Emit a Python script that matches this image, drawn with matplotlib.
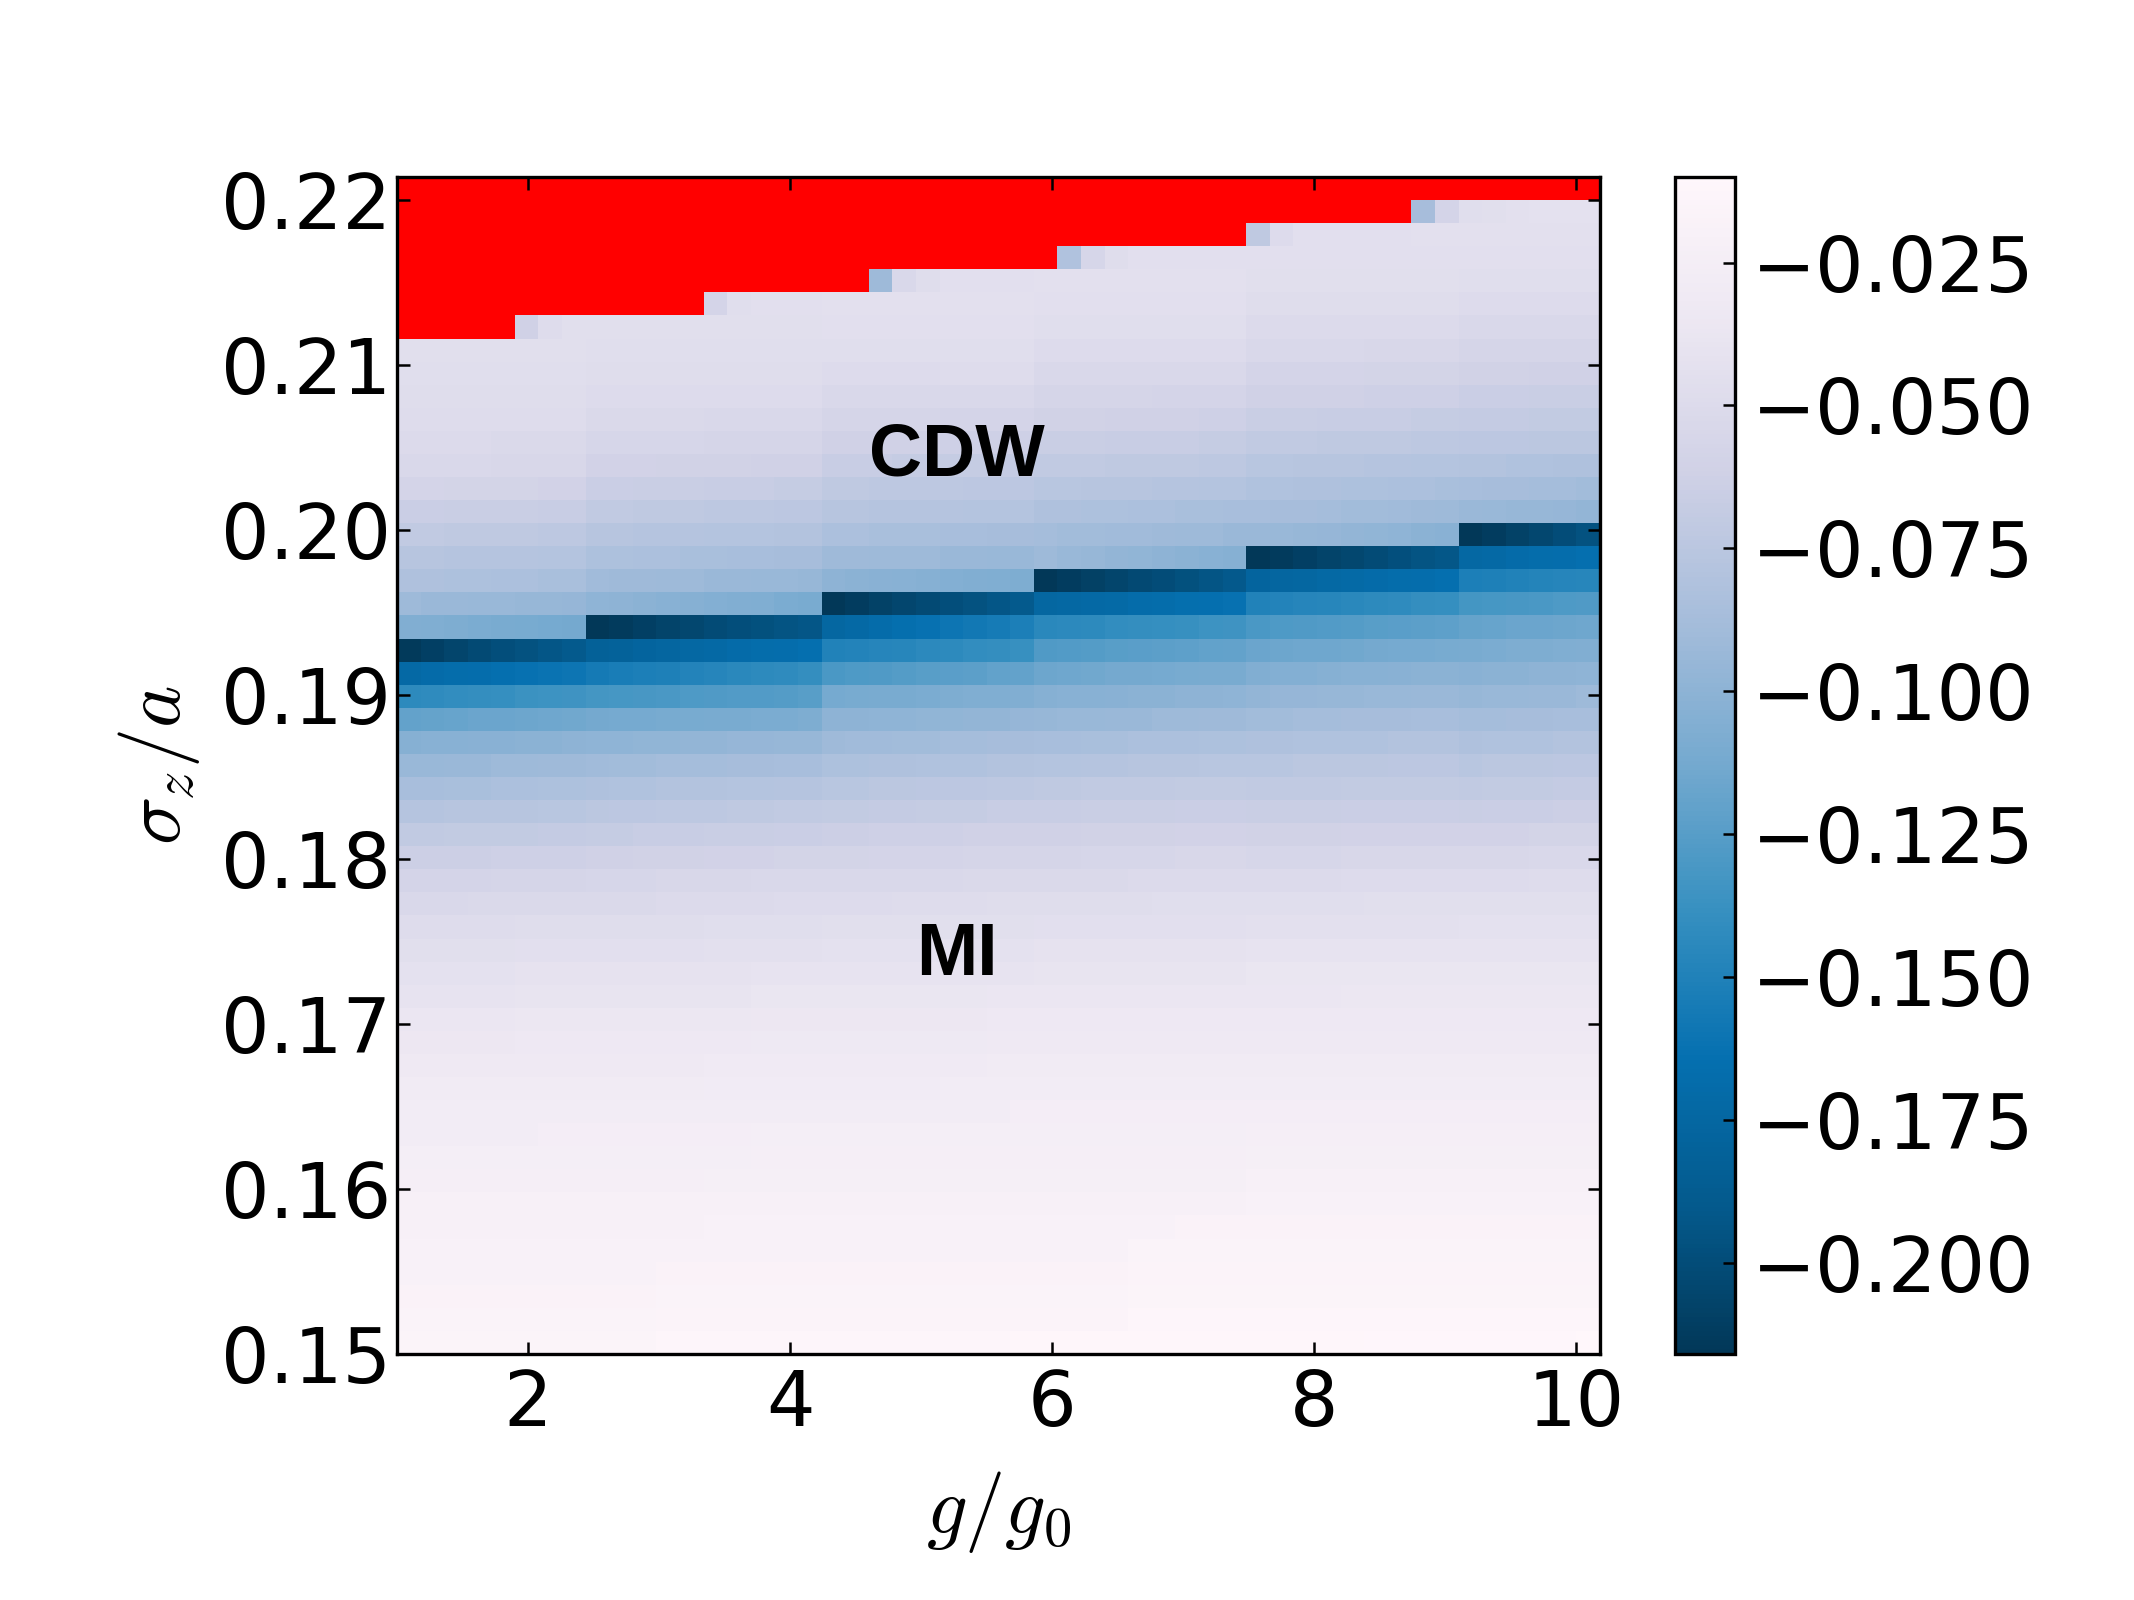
import numpy as np
import matplotlib
matplotlib.use("Agg")
import matplotlib.pyplot as plt

nan = float("nan")

# x categories: g/g0 (lower cell edges)
g_over_g0 = [1.00, 1.18, 1.36, 1.54, 1.72, 1.90, 2.08, 2.26, 2.44, 2.62, 2.80, 2.98, 3.16, 3.34, 3.52,
             3.70, 3.88, 4.06, 4.24, 4.42, 4.60, 4.78, 4.96, 5.14, 5.32, 5.50, 5.68, 5.86, 6.04, 6.22,
             6.40, 6.58, 6.76, 6.94, 7.12, 7.30, 7.48, 7.66, 7.84, 8.02, 8.20, 8.38, 8.56, 8.74, 8.92,
             9.10, 9.28, 9.46, 9.64, 9.82, 10.00]
# y categories: sigma_z/a (lower cell edges)
sigma_z_over_a = [0.1500, 0.1514, 0.1528, 0.1542, 0.1556, 0.1570, 0.1584, 0.1598, 0.1612, 0.1626,
                  0.1640, 0.1654, 0.1668, 0.1682, 0.1696, 0.1710, 0.1724, 0.1738, 0.1752, 0.1766,
                  0.1780, 0.1794, 0.1808, 0.1822, 0.1836, 0.1850, 0.1864, 0.1878, 0.1892, 0.1906,
                  0.1920, 0.1934, 0.1948, 0.1962, 0.1976, 0.1990, 0.2004, 0.2018, 0.2032, 0.2046,
                  0.2060, 0.2074, 0.2088, 0.2102, 0.2116, 0.2130, 0.2144, 0.2158, 0.2172, 0.2186,
                  0.2200]

# colour values, in units of -0.001, one row per sigma_z/a value (nan = unstable, drawn red)
row00 = [15,15,15,15,15,15,15,15,15,15, 15,14,14,14,14,14,14,14,14,14, 14,14,14,14,14,14,12,12,12,12, 12,12,12,12,12,12,12,12,12,12, 12,11,11,11,11,11,11,11,11,11, 10]
row01 = [17,17,17,17,17,17,17,17,17,17, 17,16,16,16,16,16,16,16,16,16, 16,16,16,16,16,16,16,16,16,16, 16,14,14,14,14,14,14,14,14,14, 14,14,14,14,14,14,14,14,14,14, 14]
row02 = [18,18,18,18,18,18,18,18,18,18, 18,17,17,17,17,17,17,17,17,17, 17,17,17,17,17,17,17,17,17,17, 17,15,15,15,15,15,15,15,15,15, 15,15,15,15,15,15,15,15,15,15, 15]
row03 = [19,19,19,19,19,19,19,19,19,19, 19,18,18,18,18,18,18,18,18,18, 18,18,18,18,18,18,18,18,18,18, 18,16,16,16,16,16,16,16,16,16, 16,16,16,16,16,16,16,16,16,16, 16]
row04 = [20,20,20,20,20,20,20,20,20,20, 20,19,19,19,19,19,19,19,19,19, 19,19,19,19,19,19,19,19,19,19, 19,17,17,17,17,17,17,17,17,17, 17,17,17,17,17,17,17,17,17,17, 17]
row05 = [21,21,21,21,21,21,21,21,21,21, 21,21,21,20,20,20,20,20,20,20, 20,20,20,20,20,20,20,20,20,20, 20,20,20,18,18,18,18,18,18,18, 18,18,18,18,18,18,18,18,18,18, 18]
row06 = [22,22,22,22,22,22,22,22,22,22, 22,22,22,21,21,21,21,21,21,21, 21,21,21,21,21,21,21,21,21,21, 21,21,21,21,21,21,20,20,20,20, 20,20,20,20,20,20,20,20,20,20, 20]
row07 = [24,24,24,24,24,24,24,24,24,24, 24,24,24,23,23,23,23,23,23,23, 23,23,23,23,23,23,23,23,23,23, 23,23,23,23,23,23,21,21,21,21, 21,21,21,21,21,21,21,21,21,21, 21]
row08 = [25,25,25,25,25,25,25,25,25,25, 25,25,25,25,25,24,24,24,24,24, 24,24,24,24,24,24,24,24,24,24, 24,24,24,24,24,24,23,23,23,23, 23,23,23,23,23,23,23,23,23,23, 23]
row09 = [27,27,27,27,27,27,26,26,26,26, 26,26,26,26,26,25,25,25,25,25, 25,25,25,25,25,25,25,25,25,25, 25,25,25,25,25,25,24,24,24,24, 24,24,24,24,24,24,24,24,24,24, 24]
row10 = [28,28,28,28,28,28,28,28,28,28, 28,28,28,28,28,28,27,27,27,27, 27,27,27,27,27,27,26,26,26,26, 26,26,26,26,26,26,26,26,26,26, 26,26,26,26,26,26,26,26,26,26, 26]
row11 = [30,30,30,30,30,30,30,30,30,30, 30,30,30,29,29,29,29,29,29,29, 29,29,29,28,28,28,28,28,28,28, 28,28,28,28,28,28,28,28,28,28, 28,28,28,28,28,28,28,28,28,28, 28]
row12 = [32,32,32,32,32,32,32,32,32,32, 32,32,32,31,31,31,31,31,31,31, 31,31,31,31,31,30,30,30,30,30, 30,30,30,30,30,30,30,30,30,30, 30,30,30,30,30,30,30,30,30,30, 30]
row13 = [35,35,35,35,35,34,34,34,34,34, 34,34,34,34,34,33,33,33,33,33, 33,33,33,33,33,32,32,32,32,32, 32,32,32,32,32,32,32,32,32,32, 32,32,32,32,32,32,32,32,32,32, 32]
row14 = [37,37,37,37,37,36,36,36,36,36, 36,36,36,36,36,35,35,35,35,35, 35,35,35,35,35,34,34,34,34,34, 34,34,34,34,34,34,34,34,34,34, 34,34,34,34,34,34,34,34,34,34, 34]
row15 = [40,40,40,40,40,39,39,39,39,39, 39,39,39,39,39,38,38,38,38,38, 38,38,38,38,38,37,37,37,37,37, 37,37,37,37,37,37,37,37,37,37, 36,36,36,36,36,36,36,36,36,36, 36]
row16 = [43,43,43,43,43,42,42,42,42,42, 42,42,42,42,42,41,41,41,41,41, 40,40,40,40,40,40,40,39,39,39, 39,39,39,39,39,39,38,38,38,38, 38,38,38,38,38,38,38,38,38,38, 38]
row17 = [46,46,46,46,46,45,45,45,45,45, 45,45,45,44,44,44,44,44,43,43, 43,43,43,43,43,43,43,42,42,42, 42,42,42,42,42,42,41,41,41,41, 41,41,41,41,41,40,40,40,40,40, 40]
row18 = [49,49,49,49,49,48,48,48,48,48, 48,48,48,47,47,47,47,47,46,46, 46,46,46,46,46,46,46,45,45,45, 45,45,45,45,45,45,44,44,44,44, 44,44,44,44,44,43,43,43,43,43, 43]
row19 = [53,53,53,52,52,52,52,52,52,52, 52,51,51,51,51,51,50,50,50,50, 50,49,49,49,49,48,48,48,48,48, 48,48,47,47,47,47,47,47,47,47, 47,46,46,46,46,46,46,46,46,46, 46]
row20 = [58,58,58,58,57,57,57,57, 56,56,56,55,55,55,55,54,54,54, 54,54,53,53,53,53,52,52,52, 52,52,52,52,51,51,51,51,51, 51,51,51,51,50,50,50,50,50, 50,50,50,49,49,49]
row21 = [64,64,64,64,63,63,63,63, 62,62,61,61,61,60,60,60,59,59, 59,59,58,58,58,58,57,57,57, 57,57,56,56,56,56,55,55,55, 56,56,56,56,55,55,55,55,55, 55,55,55,54,54,54]
row22 = [71,71,70,70,70,70,69,69, 68,68,67,67,67,66,66,66,65,65, 64,64,63,63,63,63,62,62,62, 62,62,61,61,61,61,60,60,60, 61,61,61,61,60,60,60,60,60, 60,60,60,59,59,59]
row23 = [78,78,77,77,77,77,76,76, 75,74,74,73,73,73,72,72,71,71, 70,70,69,69,68,68,68,67,67, 67,67,66,66,66,66,65,65,65, 66,66,66,66,65,65,65,65,65, 66,65,65,65,64,64]
row24 = [86,86,85,85,84,84,83,83, 82,81,81,80,80,80,79,79,78,78, 76,76,75,75,74,74,74,73,73, 72,72,71,71,71,71,70,70,70, 71,71,71,71,70,70,70,70,70, 71,70,70,70,69,69]
row25 = [94,94,93,93,92,92,91,91, 90,89,89,88,88,88,87,87,86,86, 83,83,82,82,81,81,81,80,80, 79,79,78,78,77,77,77,76,76, 76,76,75,75,75,75,74,74,74, 76,75,75,75,74,74]
row26 = [104,103,103,102,102,101,101,100, 99,99,98,98,97,97,96,96,95,95, 91,90,90,89,89,88,88,87,87, 86,86,85,85,84,84,84,83,83, 82,82,81,81,81,81,80,80,80, 82,81,81,81,80,80]
row27 = [120,119,118,117,117,116,115,114, 113,112,112,111,111,110,110,109,109,108, 100,100,99,99,98,98,97,97,96, 95,94,94,93,93,92,92,91,91, 89,89,88,88,87,87,87,86,86, 88,88,87,87,86,86]
row28 = [143,142,141,140,139,137,136,135, 133,132,131,130,129,128,127,127,126,125, 112,111,110,110,109,108,107,107,106, 104,103,103,102,101,101,100,100,99, 97,96,96,95,95,94,94,93,93, 95,94,94,93,93,92]
row29 = [172,170,168,167,165,163,162,160, 156,154,152,151,149,147,145,143,142,140, 130,129,128,126,125,124,123,121,120, 116,115,114,113,113,112,111,110,110, 106,105,105,104,103,103,102,101,101, 102,101,101,100,100,99]
row30 = [214,210,206,202,199,196,193,190, 182,180,178,176,174,172,170,168,167,165, 150,149,147,146,144,143,141,140,138, 128,127,126,125,124,123,122,121,120, 117,116,115,115,114,113,112,112,111, 110,109,108,108,107,106]
row31 = [106,107,108,109,110,111,112,113, 216,213,210,207,204,201,199,197,195,193, 175,172,169,166,163,160,158,155,152, 145,144,143,141,140,139,138,136,135, 130,129,128,127,126,125,124,123,122, 119,118,117,117,116,115]
row32 = [92,93,93,94,94,95,95,96, 99,100,101,103,104,105,106,107,109,110, 216,212,208,205,202,199,196,193,190, 175,174,172,171,169,168,166,165,163, 150,149,147,146,145,143,142,140,139, 133,132,131,130,129,128]
row33 = [82,82,83,83,84,84,85,85, 90,91,91,92,92,93,93,94,94,95, 100,101,102,103,104,105,106,107,108, 216,212,209,206,203,200,197,194,191, 178,176,175,173,171,170,168,167,165, 152,151,150,148,147,146]
row34 = [77,77,78,78,78,78,79,79, 83,83,84,84,85,85,86,86,87,87, 91,91,92,92,92,93,93,94,94, 92,94,95,97,98,100,101,103,104, 216,213,210,207,204,201,198,195,192, 174,172,170,168,167,165]
row35 = [71,71,72,72,72,72,73,73, 77,77,78,78,78,79,79,79,80,80, 84,84,85,85,85,86,86,87,87, 88,89,89,90,90,91,92,92,93, 93,94,95,96,97,98,99,101,102, 216,212,208,204,200,196]
row36 = [65,65,66,66,66,66,67,67, 71,71,72,72,72,73,73,73,74,74, 77,77,78,78,78,78,79,79,79, 82,82,83,83,84,84,85,85,86, 86,87,87,88,89,89,90,91,92, 93,94,95,95,96,97]
row37 = [58,58,59,59,59,59,60,60, 65,65,66,66,66,67,67,67,68,68, 72,72,73,73,73,73,74,74,74, 76,76,77,77,77,78,78,79,79, 81,81,82,82,83,83,84,84,85, 86,87,87,88,88,89]
row38 = [54,54,54,54,55,55,55,55, 60,60,60,61,61,61,61,62,62,62, 67,67,67,68,68,68,68,69,69, 71,71,71,72,72,72,72,73,73, 76,76,77,77,77,78,78,79,79, 80,80,81,81,82,82]
row39 = [51,51,51,51,52,52,52,52, 56,56,56,56,56,57,57,57,57,57, 62,62,62,62,62,63,63,63,63, 66,66,66,67,67,67,67,68,68, 71,71,71,72,72,72,72,73,73, 74,74,74,75,75,75]
row40 = [49,49,49,49,49,49,49,49, 52,52,52,52,52,53,53,53,53,53, 57,57,57,57,57,58,58,58,58, 61,61,61,62,62,62,62,63,63, 66,66,66,67,67,67,67,68,68, 69,69,69,70,70,70]
row41 = [48,48,48,48,48,48,48,48, 50,50,50,50,50,50,50,50,50,50, 53,53,53,53,53,53,53,53,53, 57,57,57,57,57,58,58,58,58, 62,62,62,62,62,63,63,63,63, 65,65,65,66,66,66]
row42 = [47,47,47,47,47,47,47,47, 48,48,48,48,48,48,48,48,48,48, 50,50,50,50,50,49,49,49,49, 53,53,53,53,53,54,54,54,54, 58,58,58,58,58,59,59,59,59, 61,61,61,62,62,62]
row43 = [46,46,46,46,46,46,46,46, 47,47,47,47,47,47,47,47,47,47, 47,47,47,47,47,47,47,47,47, 50,50,50,50,50,50,50,50,50, 54,54,54,54,54,55,55,55,55, 57,57,57,57,57,57]
row44 = [nan,nan,nan,nan,nan,62,49,46, 46,46,46,46,46,46,46,46,46,46, 45,45,45,45,45,45,45,45,45, 47,47,47,47,47,47,47,47,47, 51,51,51,51,51,51,51,51,51, 53,53,53,53,53,53]
row45 = [nan,nan,nan,nan,nan,nan,nan,nan, nan,nan,nan,nan,nan,58,47,45,45,45, 44,44,44,44,44,44,44,44,44, 45,45,45,45,45,45,45,45,45, 48,48,48,48,48,48,48,48,48, 50,50,50,50,50,50]
row46 = [nan,nan,nan,nan,nan,nan,nan,nan, nan,nan,nan,nan,nan,nan,nan,nan,nan,nan, nan,nan,92,54,48,45,45,45,45, 44,44,44,44,44,44,44,44,44, 46,46,46,46,46,46,46,46,46, 47,47,47,47,47,47]
row47 = [nan,nan,nan,nan,nan,nan,nan,nan, nan,nan,nan,nan,nan,nan,nan,nan,nan,nan, nan,nan,nan,nan,nan,nan,nan,nan,nan, nan,81,56,48,45,45,45,45,45, 45,45,45,45,45,45,45,45,45, 45,45,45,45,45,45]
row48 = [nan,nan,nan,nan,nan,nan,nan,nan, nan,nan,nan,nan,nan,nan,nan,nan,nan,nan, nan,nan,nan,nan,nan,nan,nan,nan,nan, nan,nan,nan,nan,nan,nan,nan,nan,nan, 72,50,45,45,45,45,45,44,44, 44,44,44,44,44,44]
row49 = [nan,nan,nan,nan,nan,nan,nan,nan, nan,nan,nan,nan,nan,nan,nan,nan,nan,nan, nan,nan,nan,nan,nan,nan,nan,nan,nan, nan,nan,nan,nan,nan,nan,nan,nan,nan, nan,nan,nan,nan,nan,nan,nan,87,58, 47,46,44,43,43,43]
row50 = [nan,nan,nan,nan,nan,nan,nan,nan, nan,nan,nan,nan,nan,nan,nan,nan,nan,nan, nan,nan,nan,nan,nan,nan,nan,nan,nan, nan,nan,nan,nan,nan,nan,nan,nan,nan, nan,nan,nan,nan,nan,nan,nan,nan,nan, nan,nan,nan,nan,nan,nan]

rows = [row00, row01, row02, row03, row04, row05, row06, row07, row08, row09,
        row10, row11, row12, row13, row14, row15, row16, row17, row18, row19,
        row20, row21, row22, row23, row24, row25, row26, row27, row28, row29,
        row30, row31, row32, row33, row34, row35, row36, row37, row38, row39,
        row40, row41, row42, row43, row44, row45, row46, row47, row48, row49,
        row50]
for i, r in enumerate(rows):
    assert len(r) == 51, (i, len(r))

xticks = [2, 4, 6, 8, 10]
yticks = [0.15, 0.16, 0.17, 0.18, 0.19, 0.20, 0.21, 0.22]
cbar_ticks = [-0.200, -0.175, -0.150, -0.125, -0.100, -0.075, -0.050, -0.025]

# ------------------------------------------------------------------
plt.rcParams['mathtext.fontset'] = 'cm'
plt.rcParams['axes.linewidth'] = 1.2

g = np.array(g_over_g0)
s = np.array(sigma_z_over_a)
x_edges = np.append(g, g[-1] + (g[-1] - g[-2]))
y_edges = np.append(s, s[-1] + (s[-1] - s[-2]))
Z = -np.array(rows, dtype=float) / 1000.0
Zm = np.ma.masked_invalid(Z)

cmap = plt.get_cmap('PuBu_r').copy()
cmap.set_bad('#ff0000')

fig = plt.figure(figsize=(10.67, 8), dpi=200)
ax = fig.add_axes([0.186, 0.1538, 0.5638, 0.7356])
mesh = ax.pcolormesh(x_edges, y_edges, Zm, cmap=cmap, shading='flat')
ax.set_xlim(x_edges[0], x_edges[-1])
ax.set_ylim(y_edges[0], y_edges[-1])
ax.set_xticks(xticks)
ax.set_yticks(yticks)
ax.set_yticklabels(['%.2f' % v for v in yticks])
ax.tick_params(direction='in', top=True, right=True, length=4.5, width=0.9,
               labelsize=27.5)
ax.tick_params(axis='x', pad=5)
ax.tick_params(axis='y', pad=2)

ax.set_xlabel(r'$g/g_0$', fontsize=29)
ax.set_ylabel(r'$\sigma_z/a$', fontsize=29)
ax.xaxis.set_label_coords(0.5, -0.098)
ax.yaxis.set_label_coords(-0.162, 0.5)

ax.text(5.27, 0.2033, 'CDW', ha='center', va='baseline', fontsize=26.5,
        fontweight='bold', family=['Liberation Sans', 'DejaVu Sans'])
ax.text(5.27, 0.1730, 'MI', ha='center', va='baseline', fontsize=26.5,
        fontweight='bold', family=['Liberation Sans', 'DejaVu Sans'])

cax = fig.add_axes([0.7851, 0.1538, 0.0281, 0.7356])
cb = fig.colorbar(mesh, cax=cax, ticks=cbar_ticks)
cb.outline.set_linewidth(1.2)
cax.tick_params(direction='in', length=4.5, width=0.9, labelsize=27.5, pad=6)
cax.set_yticklabels(['\u2212%.3f' % abs(v) for v in cbar_ticks])

fig.savefig('out.png', dpi=200)
